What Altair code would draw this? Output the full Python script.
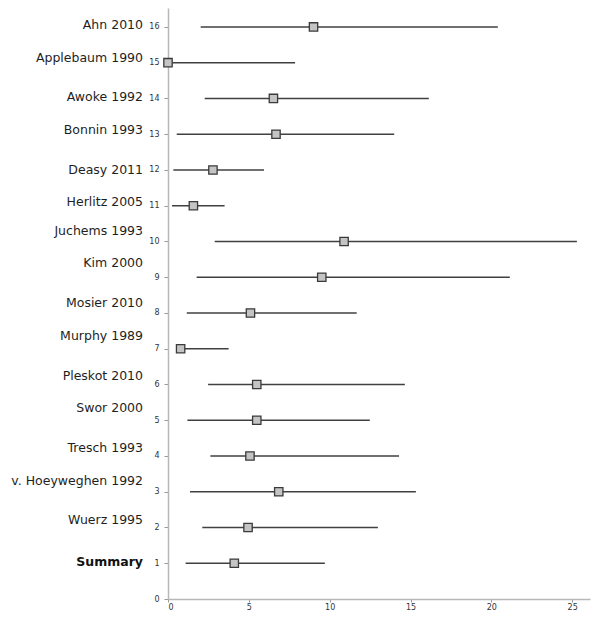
import altair as alt
import pandas as pd

names = ["Ahn 2010", "Applebaum 1990", "Awoke 1992", "Bonnin 1993", "Deasy 2011",
         "Herlitz 2005", "Juchems 1993", "Kim 2000", "Mosier 2010", "Murphy 1989",
         "Pleskot 2010", "Swor 2000", "Tresch 1993", "v. Hoeyweghen 1992", "Wuerz 1995",
         "Summary"]
rows = [16, 15, 14, 13, 12, 11, 10, 9, 8, 7, 6, 5, 4, 3, 2, 1]
estimate = [9.0, 0.0, 6.52, 6.68, 2.78, 1.57, 10.89, 9.51, 5.1, 0.78, 5.49, 5.49, 5.07, 6.85, 4.95, 4.1]
lower = [2.02, 0.0, 2.27, 0.54, 0.33, 0.25, 2.89, 1.77, 1.16, 0.75, 2.48, 1.2, 2.62, 1.36, 2.12, 1.09]
upper = [20.4, 7.86, 16.13, 13.99, 5.94, 3.5, 25.29, 21.14, 11.67, 3.75, 14.65, 12.48, 14.29, 15.33, 12.98, 9.7]
label_rows = [16.06, 15.14, 14.05, 13.13, 12.01, 11.09, 10.28, 9.39, 8.27, 7.35, 6.23, 5.34, 4.22, 3.30, 2.21, 1.03]
is_summary = [False] * 15 + [True]
x_ticks = [0, 5, 10, 15, 20, 25]
y_ticks = list(range(0, 17))

df = pd.DataFrame({
    "name": names, "row": rows, "est": estimate, "lo": lower, "hi": upper,
    "label_row": label_rows, "summary": is_summary,
})

xscale = alt.Scale(domain=[0, 26.1], nice=False, zero=False)
yscale = alt.Scale(domain=[0, 16.53], nice=False, zero=False)

xaxis = alt.Axis(values=x_ticks, grid=False, title=None,
                 labelFontSize=8, labelColor="#333333", labelFont="DejaVu Sans",
                 tickSize=3, tickColor="#999999", domainColor="#b8b8b8", domainWidth=1.5,
                 labelPadding=1, labelOverlap=False)
yaxis = alt.Axis(values=y_ticks, grid=False, title=None,
                 labelFontSize=8, labelColor="#333333", labelFont="DejaVu Sans",
                 tickSize=4, tickColor="#999999", domainColor="#b8b8b8", domainWidth=1.5,
                 labelPadding=5, labelOverlap=False)

base = alt.Chart(df)

rules = base.mark_rule(color="#404040", strokeWidth=1.5).encode(
    x=alt.X("lo:Q", scale=xscale, axis=xaxis),
    x2="hi:Q",
    y=alt.Y("row:Q", scale=yscale, axis=yaxis),
)

points = base.mark_point(shape="square", filled=True, size=70, fill="#c4c4c4",
                         stroke="#3a3a3a", strokeWidth=1.3, opacity=1).encode(
    x=alt.X("est:Q", scale=xscale, axis=xaxis),
    y=alt.Y("row:Q", scale=yscale, axis=yaxis),
)

labels = base.transform_filter("!datum.summary").mark_text(
    align="right", baseline="middle", font="DejaVu Sans",
    fontSize=12.5, color="#1e1e1e").encode(
    x=alt.value(-25),
    y=alt.Y("label_row:Q", scale=yscale, axis=yaxis),
    text="name:N",
)

summary_label = base.transform_filter("datum.summary").mark_text(
    align="right", baseline="middle", font="DejaVu Sans", fontWeight="bold",
    fontSize=12.5, color="#111111").encode(
    x=alt.value(-25),
    y=alt.Y("label_row:Q", scale=yscale, axis=yaxis),
    text="name:N",
)

chart = alt.layer(rules, points, labels, summary_label).properties(
    width=422, height=591,
    autosize=alt.AutoSizeParams(type="none"),
    padding={"left": 160, "top": 0, "right": 2, "bottom": 13},
).configure_view(stroke=None)

chart.save("out.html", embed_options={"renderer": "svg", "actions": False})
